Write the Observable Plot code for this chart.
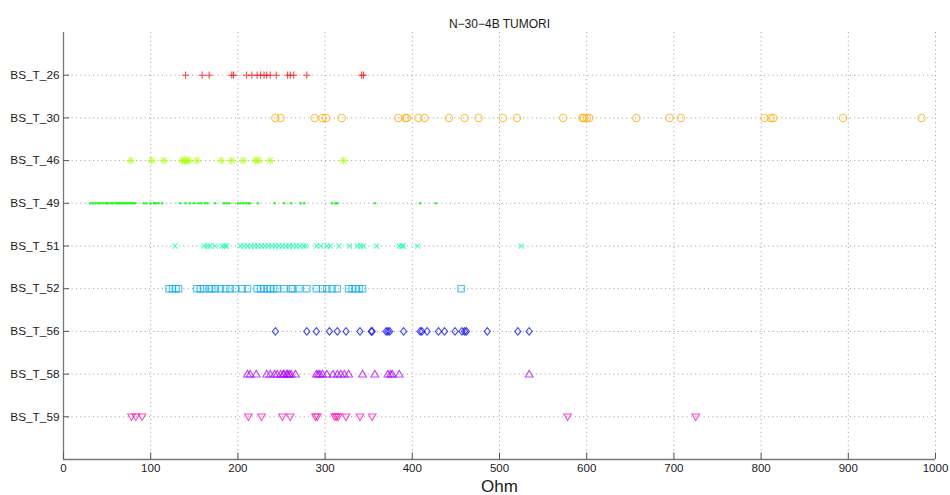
<!DOCTYPE html>
<html>
<head>
<meta charset="utf-8">
<script src="https://cdn.jsdelivr.net/npm/d3@7"></script>
<script src="https://cdn.jsdelivr.net/npm/@observablehq/plot@0.6"></script>
<style>
  html, body { margin: 0; padding: 0; background: white; }
</style>
</head>
<body>
<div id="chart"></div>
<script>
const title = "N\u221230\u22124B TUMORI";
const xLabel = "Ohm";
const categories = ["BS_T_26", "BS_T_30", "BS_T_46", "BS_T_49", "BS_T_51", "BS_T_52", "BS_T_56", "BS_T_58", "BS_T_59"];
const xTicks = [0, 100, 200, 300, 400, 500, 600, 700, 800, 900, 1000];

const bs26 = [140, 159, 167, 193, 195, 210, 216, 222, 226, 230, 233, 237, 244, 257, 260, 264, 279, 342, 344];
const bs30 = [243, 249, 288, 297, 301, 319, 384, 392, 394, 407, 414, 442, 460, 476, 504, 520, 573, 595, 597, 600, 603, 657, 695, 708, 804, 811, 814, 894, 984];
const bs46 = [77, 101, 115, 136, 139, 141, 144, 153, 181, 193, 206, 220, 224, 237, 321];
const bs49 = [31, 34, 37, 40, 42, 45, 48, 50, 52, 55, 57, 60, 62, 64, 66, 68, 70, 72, 74, 76, 78, 80, 82, 92, 95, 100, 104, 106, 109, 113, 134, 140, 145, 150, 155, 158, 162, 165, 174, 184, 187, 190, 200, 203, 206, 209, 212, 214, 223, 242, 253, 261, 272, 276, 308, 312, 314, 357, 409, 427];
const bs51 = [128, 161, 165, 168, 174, 182, 185, 187, 203, 207, 211, 215, 219, 223, 227, 231, 235, 239, 243, 247, 251, 255, 259, 263, 267, 271, 275, 278, 290, 295, 302, 306, 316, 328, 337, 341, 344, 359, 385, 388, 390, 406, 525];
const bs52 = [121, 125, 129, 132, 153, 157, 161, 167, 170, 174, 180, 186, 191, 197, 205, 211, 222, 226, 230, 234, 237, 241, 245, 253, 261, 263, 270, 279, 290, 297, 302, 308, 314, 327, 331, 335, 339, 343, 456];
const bs56 = [243, 279, 290, 305, 314, 324, 340, 353, 354, 370, 372, 374, 390, 409, 411, 417, 430, 437, 449, 457, 460, 462, 486, 521, 534];
const bs58 = [211, 214, 221, 233, 237, 242, 245, 249, 252, 253, 256, 257, 259, 261, 266, 290, 292, 294, 297, 302, 309, 314, 318, 322, 327, 343, 357, 372, 375, 377, 385, 534];
const bs59 = [78, 83, 90, 212, 227, 251, 260, 289, 291, 311, 313, 315, 324, 340, 354, 578, 725];

const seriesValues = [bs26, bs30, bs46, bs49, bs51, bs52, bs56, bs58, bs59];
const colors = ["#ff0000", "#ffaa00", "#aaff00", "#00ff00", "#00ffaa", "#00aaff", "#0000ff", "#aa00ff", "#ff00aa"];

// custom MATLAB-like marker shapes (h = radius derived from Plot's size)
const mk = (f) => ({ draw(c, size) { const h = Math.sqrt(size / Math.PI); f(c, h); } });
const symPlus = mk((c, h) => { c.moveTo(-h, 0); c.lineTo(h, 0); c.moveTo(0, -h); c.lineTo(0, h); });
const symCircle = mk((c, h) => { c.moveTo(h, 0); c.arc(0, 0, h, 0, 2 * Math.PI); });
const symStar = mk((c, h) => { const d = h * 0.72; c.moveTo(-h, 0); c.lineTo(h, 0); c.moveTo(0, -h); c.lineTo(0, h); c.moveTo(-d, -d); c.lineTo(d, d); c.moveTo(-d, d); c.lineTo(d, -d); });
const symPoint = mk((c, h) => { c.moveTo(h, 0); c.arc(0, 0, h, 0, 2 * Math.PI); });
const symTimes = mk((c, h) => { c.moveTo(-h, -h); c.lineTo(h, h); c.moveTo(-h, h); c.lineTo(h, -h); });
const symSquare = mk((c, h) => { c.rect(-h, -h, 2 * h, 2 * h); });
const symDiamond = mk((c, h) => { const w = h * 0.82; c.moveTo(0, -h); c.lineTo(w, 0); c.lineTo(0, h); c.lineTo(-w, 0); c.closePath(); });
const symTriUp = mk((c, h) => { c.moveTo(0, -0.95 * h); c.lineTo(h, 0.75 * h); c.lineTo(-h, 0.75 * h); c.closePath(); });
const symTriDown = mk((c, h) => { c.moveTo(0, 0.95 * h); c.lineTo(h, -0.75 * h); c.lineTo(-h, -0.75 * h); c.closePath(); });

const symbols = [symPlus, symCircle, symStar, symPoint, symTimes, symSquare, symDiamond, symTriUp, symTriDown];
const radii = [3.6, 3.7, 4.0, 1.3, 2.6, 3.2, 3.8, 3.9, 3.8];
const filled = [false, false, false, true, false, false, false, false, false];

const rowIdx = categories.map((c, i) => i + 1);

const seriesMarks = seriesValues.map((vals, i) => {
  const data = vals.map(v => ({ cat: categories[i], y: i + 1, v }));
  return Plot.dot(data, filled[i]
    ? { x: "v", y: "y", symbol: symbols[i], r: radii[i], fill: colors[i], fillOpacity: 0.85, stroke: "none" }
    : { x: "v", y: "y", symbol: symbols[i], r: radii[i], fill: "none", stroke: colors[i], strokeOpacity: 0.72, strokeWidth: 1.1 });
});

const chart = Plot.plot({
  width: 950,
  height: 495,
  marginTop: 32,
  marginBottom: 36,
  marginLeft: 63,
  marginRight: 15,
  style: { fontFamily: "'Liberation Sans', Arial, Helvetica, sans-serif", fontSize: "11.5px", color: "#1a1a1a", background: "white" },
  x: { domain: [0, 1000], axis: null },
  y: { domain: [0, 10], reverse: true, axis: null },
  marks: [
    // dotted grid
    Plot.ruleX(xTicks, { stroke: "#9a9a9a", strokeDasharray: "1,3.3", strokeWidth: 1 }),
    Plot.ruleY(rowIdx, { x1: 0, x2: 1000, stroke: "#9a9a9a", strokeDasharray: "1,3.3", strokeWidth: 1 }),
    // axis lines
    Plot.ruleX([0], { stroke: "#777", strokeWidth: 1.3 }),
    Plot.ruleY([10], { x1: 0, x2: 1000, stroke: "#777", strokeWidth: 1.3 }),
    // inward ticks
    Plot.ruleY(rowIdx, { x1: 0, x2: 7, stroke: "#555" }),
    Plot.ruleX(xTicks, { y1: 10, y2: 9.85, stroke: "#555" }),
    // axes labels
    Plot.axisY({ ticks: rowIdx, tickFormat: d => categories[d - 1], tickSize: 0, tickPadding: 4, label: null, fontSize: 11.8 }),
    Plot.axisX({ ticks: xTicks, tickFormat: d => String(d), tickSize: 0, tickPadding: 4, label: null, fontSize: 11.5 }),
    Plot.text([xLabel], { frameAnchor: "bottom", dy: 32, fontSize: 17, fill: "#1a1a1a" }),
    Plot.text([title], { frameAnchor: "top", dy: -13, fontSize: 12, fill: "#1a1a1a" }),
    ...seriesMarks
  ]
});

document.getElementById("chart").appendChild(chart);
</script>
</body>
</html>
